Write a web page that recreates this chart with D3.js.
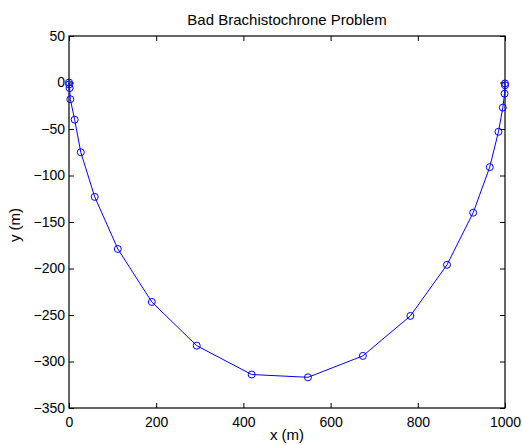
<!DOCTYPE html>
<html>
<head>
<meta charset="utf-8">
<script src="https://cdn.jsdelivr.net/npm/d3@7"></script>
<style>
  body { margin: 0; background: #fff; }
  text { font-family: "Liberation Sans", Arial, sans-serif; }
</style>
</head>
<body>
<script>
// path points
var xs = [0, 0.3, 1.5, 3, 13, 27, 59, 112, 190, 293, 419, 548, 674, 783, 867, 927, 965, 985, 995, 999, 1000, 1000];
var ys = [0, -2, -6, -18, -40, -75, -123, -179, -236, -283, -314, -317, -294, -251, -196, -140, -91, -53, -27, -12, -3, -1];
var xTicks = [0, 200, 400, 600, 800, 1000];
var yTicks = [50, 0, -50, -100, -150, -200, -250, -300, -350];

var W = 522, H = 445;
var pLeft = 69, pRight = 505, pTop = 36, pBottom = 408;

var svg = d3.select('body').append('svg')
    .attr('width', W)
    .attr('height', H);

var x = d3.scaleLinear().domain([0, 1000]).range([pLeft, pRight]);
var y = d3.scaleLinear().domain([-350, 50]).range([pBottom, pTop]);

var fmt = function (d) { return d < 0 ? '\u2212' + Math.abs(d) : String(d); };

// ticks inward on all four sides
svg.append('g')
    .attr('transform', 'translate(0,' + pBottom + ')')
    .call(d3.axisBottom(x).tickValues(xTicks).tickSizeInner(-5).tickSizeOuter(0).tickPadding(9).tickFormat(fmt));
svg.append('g')
    .attr('transform', 'translate(0,' + pTop + ')')
    .call(d3.axisTop(x).tickValues(xTicks).tickSizeInner(-5).tickSizeOuter(0).tickFormat(''));
svg.append('g')
    .attr('transform', 'translate(' + pLeft + ',0)')
    .call(d3.axisLeft(y).tickValues(yTicks).tickSizeInner(-5).tickSizeOuter(0).tickPadding(4).tickFormat(fmt));
svg.append('g')
    .attr('transform', 'translate(' + pRight + ',0)')
    .call(d3.axisRight(y).tickValues(yTicks).tickSizeInner(-5).tickSizeOuter(0).tickFormat(''));

svg.selectAll('.domain').remove();
svg.selectAll('.tick line').attr('stroke', '#000');
svg.selectAll('.tick text').attr('font-size', 14).attr('fill', '#000')
    .style('font-family', '"Liberation Sans", Arial, sans-serif');

svg.append('rect')
    .attr('x', pLeft)
    .attr('y', pTop)
    .attr('width', pRight - pLeft)
    .attr('height', pBottom - pTop)
    .attr('fill', 'none')
    .attr('stroke', '#000')
    .attr('stroke-width', 1.2);

var pts = xs.map(function (d, i) { return [d, ys[i]]; });

svg.append('path')
    .datum(pts)
    .attr('d', d3.line().x(function (d) { return x(d[0]); }).y(function (d) { return y(d[1]); }))
    .attr('fill', 'none')
    .attr('stroke', '#0000ff')
    .attr('stroke-width', 1);

svg.selectAll('circle.pt')
    .data(pts)
    .enter().append('circle')
    .attr('class', 'pt')
    .attr('cx', function (d) { return x(d[0]); })
    .attr('cy', function (d) { return y(d[1]); })
    .attr('r', 3.5)
    .attr('fill', 'none')
    .attr('stroke', '#0000ff')
    .attr('stroke-width', 1);

svg.append('text')
    .attr('x', (pLeft + pRight) / 2)
    .attr('y', 25)
    .attr('text-anchor', 'middle')
    .attr('font-size', 15)
    .text('Bad Brachistochrone Problem');

svg.append('text')
    .attr('x', (pLeft + pRight) / 2)
    .attr('y', 440)
    .attr('text-anchor', 'middle')
    .attr('font-size', 15)
    .text('x (m)');

svg.append('text')
    .attr('transform', 'translate(20,' + 225 + ') rotate(-90)')
    .attr('text-anchor', 'middle')
    .attr('font-size', 15)
    .text('y (m)');
</script>
</body>
</html>
